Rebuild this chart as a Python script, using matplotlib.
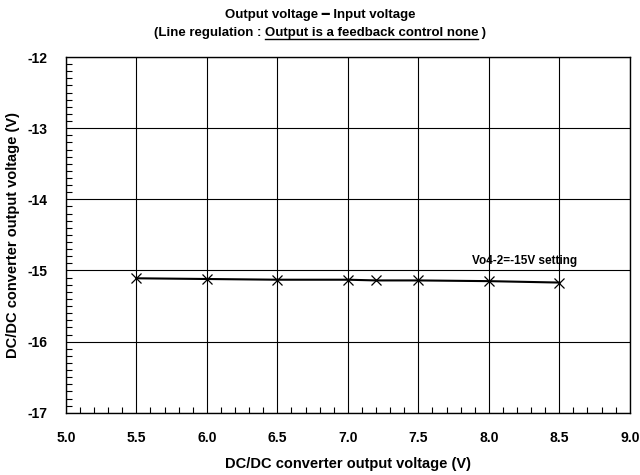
import matplotlib
matplotlib.use('Agg')
import matplotlib.pyplot as plt
from matplotlib.ticker import MultipleLocator, FormatStrFormatter

plt.rcParams['font.family'] = ['Liberation Sans', 'DejaVu Sans']
plt.rcParams['font.weight'] = 'bold'

# data
vin = [5.5, 6.0, 6.5, 7.0, 7.2, 7.5, 8.0, 8.5]
vout = [-15.11, -15.12, -15.13, -15.13, -15.14, -15.14, -15.15, -15.17]
series_label = 'Vo4-2=-15V setting'

fig = plt.figure(figsize=(6.4, 4.75), dpi=100)
ax = fig.add_axes([0.103, 0.131, 0.881, 0.749])

ax.plot(vin, vout, color='black', lw=1.5, marker='x', ms=7, mew=0.9)
ax.text(7.88, -14.86, series_label, fontsize=8.5, fontweight='bold',
        va='center')

ax.set_xlim(5.0, 9.0)
ax.set_ylim(-17, -12)
ax.xaxis.set_major_locator(MultipleLocator(0.5))
ax.xaxis.set_minor_locator(MultipleLocator(0.1))
ax.yaxis.set_major_locator(MultipleLocator(1))
ax.yaxis.set_minor_locator(MultipleLocator(0.1))
ax.xaxis.set_major_formatter(FormatStrFormatter('%.1f'))
ax.yaxis.set_major_formatter(FormatStrFormatter('%d'))
ax.tick_params(which='both', direction='in', top=False, right=False,
               labelsize=10)
ax.tick_params(which='major', length=0, pad=13)
ax.tick_params(which='minor', length=4, width=0.8)
ax.grid(True, which='major', color='black', lw=0.8)
for s in ax.spines.values():
    s.set_linewidth(1.0)

ax.set_xlabel('DC/DC converter output voltage (V)', fontsize=10.5,
              fontweight='bold', labelpad=9)
ax.set_ylabel('DC/DC converter output voltage (V)', fontsize=10.5,
              fontweight='bold')
ax.yaxis.set_label_coords(-0.082, 0.5)

# two-line title, second line partly underlined
fig.text(0.5, 0.962, 'Output voltage \u2501 Input voltage', ha='center',
         fontsize=9.5, fontweight='bold')
fig.canvas.draw()
r = fig.canvas.get_renderer()
parts = ['(Line regulation : ', 'Output is a feedback control none', ' )']
texts = [fig.text(0, 0.925, p, fontsize=9.5, fontweight='bold') for p in parts]
widths = [t.get_window_extent(r).width / fig.bbox.width for t in texts]
x = 0.5 - sum(widths) / 2
for t, w in zip(texts, widths):
    t.set_x(x)
    x += w
x0 = texts[1].get_position()[0]
fig.add_artist(plt.Line2D([x0, x0 + widths[1]], [0.918, 0.918],
                          color='black', lw=1.0, transform=fig.transFigure))

fig.savefig('out.png', dpi=100)
